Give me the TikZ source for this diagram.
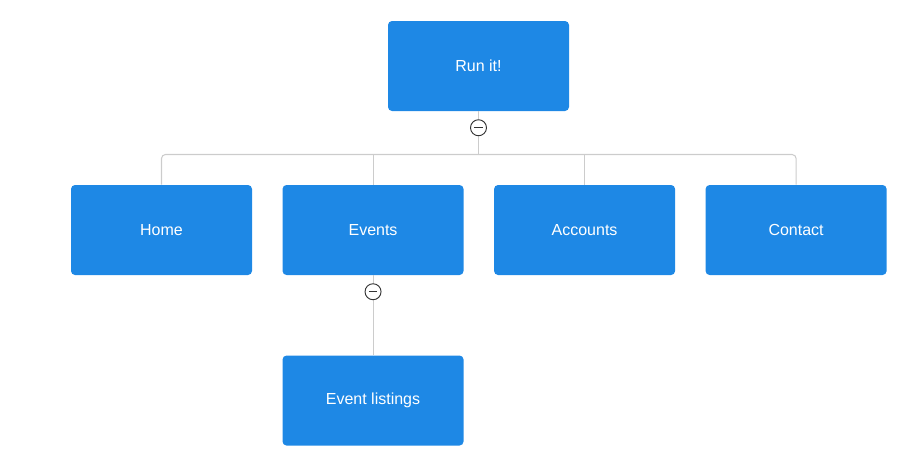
\documentclass[tikz,border=0pt]{standalone}
\usepackage{fontspec}
\setmainfont{Liberation Sans}
\usetikzlibrary{positioning}
\definecolor{pageblue}{HTML}{1E88E5}
\definecolor{linkgray}{HTML}{CCCCCC}
\definecolor{togglegray}{HTML}{333333}
\tikzstyle{page} = [rectangle, rounded corners=3pt, fill=pageblue, text=white, minimum width=135.75pt, minimum height=67.5pt, text centered, font=\fontsize{12}{14}\selectfont]
\tikzstyle{toggle} = [circle, draw=togglegray, line width=0.7pt, fill=white, minimum size=12pt, inner sep=0pt, path picture={\draw[togglegray, line width=0.8pt] ([xshift=-3.2pt]path picture bounding box.center) -- ([xshift=3.2pt]path picture bounding box.center);}]
\tikzstyle{link} = [draw=linkgray, line width=0.8pt]

\begin{document}
\begin{tikzpicture}[x=0.75pt, y=-0.75pt, node distance=22.5pt]
    \useasboundingbox (0,0) rectangle (906,471);
    \node (root) [page] at (478.5,66) {Run it!};
    \node (home) [page] at (161.5,230) {Home};
    \node (events) [page, right=of home] {Events};
    \node (accounts) [page, right=of events] {Accounts};
    \node (contact) [page, right=of accounts] {Contact};
    \node (listings) [page, below=60pt of events] {Event listings};
    \coordinate (bus) at (478.5,154.5);

    \draw[link] (root.south) -- (bus);
    \draw[link, rounded corners=3pt] (home.north) |- (bus) -| (contact.north);
    \draw[link] (events.north) -- (events.north |- bus);
    \draw[link] (accounts.north) -- (accounts.north |- bus);
    \draw[link] (events.south) -- (listings.north);

    \node (c1) [toggle, below=6pt of root] {};
    \node (c2) [toggle, below=6pt of events] {};
\end{tikzpicture}
\end{document}
